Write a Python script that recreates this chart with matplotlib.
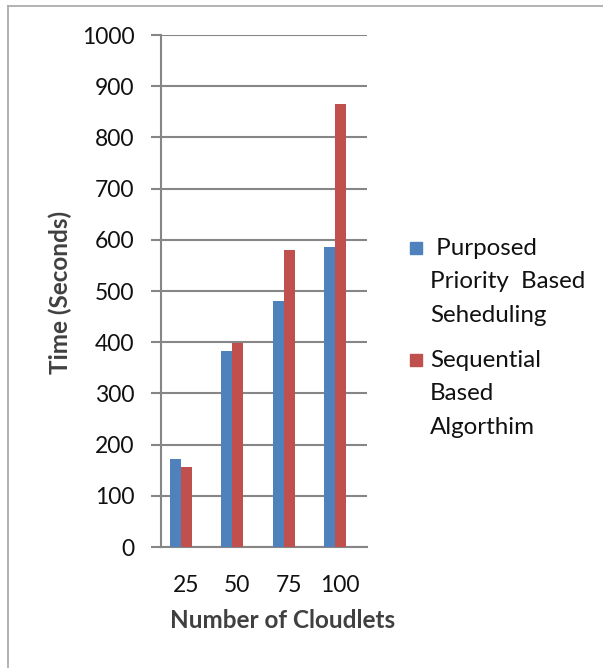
import numpy as np
import matplotlib
matplotlib.use('Agg')
import matplotlib.pyplot as plt
from matplotlib.patches import Rectangle
from matplotlib.lines import Line2D
import matplotlib.transforms as mtransforms

plt.rcParams['font.family'] = ['Lato', 'DejaVu Sans']

# ── data ──
cloudlets = ['25', '50', '75', '100']
priority_based = [172, 383, 480, 585]
sequential = [156, 398, 580, 866]
series_names = [' Purposed\nPriority  Based\nSeheduling', 'Sequential\nBased\nAlgorthim']
colors = ['#4F81BD', '#C0504D']

W, H = 603, 668
fig = plt.figure(figsize=(W / 100, H / 100), dpi=100)
ax = fig.add_axes([161 / W, 1 - 547 / H, (367 - 161) / W, (547 - 35) / H])

x = np.arange(len(cloudlets))
bw = 0.215
ax.bar(x - bw / 2, priority_based, bw, color=colors[0], zorder=3)
ax.bar(x + bw / 2, sequential, bw, color=colors[1], zorder=3)

ax.set_xlim(-0.39, 3.62)
ax.set_ylim(0, 1000)
ax.set_yticks(np.arange(0, 1001, 100))
ax.yaxis.grid(True, color='#868686', lw=1.5, zorder=0)
for s in ['top', 'right']:
    ax.spines[s].set_visible(False)
for s in ['left', 'bottom']:
    ax.spines[s].set_color('#868686')
    ax.spines[s].set_linewidth(1.5)
ax.tick_params(axis='y', length=7, width=1.5, color='#868686', pad=12,
               labelsize=16.5, labelcolor='#111111')
ax.set_xticks(x)
ax.set_xticklabels(cloudlets)
ax.tick_params(axis='x', length=0, pad=20, labelsize=16.5, labelcolor='#111111')
shift = mtransforms.ScaledTranslation(5 / 100, 0, fig.dpi_scale_trans)
for lab in ax.get_xticklabels():
    lab.set_transform(lab.get_transform() + shift)

fig.text(60 / W, 1 - 292 / H, 'Time (Seconds)', rotation=90, ha='center', va='center',
         fontsize=17.5, fontweight='bold', color='#404040')
fig.text(283 / W, 1 - 620 / H, 'Number of Cloudlets', ha='center', va='center',
         fontsize=17.5, fontweight='bold', color='#404040')

# legend drawn by hand
leg_y = [248, 360]
for name, c, yy in zip(series_names, colors, leg_y):
    fig.patches.append(Rectangle((410 / W, 1 - (yy + 6) / H), 12 / W, 12 / H,
                                 transform=fig.transFigure, color=c))
    fig.text(430 / W, 1 - (yy - 10) / H, name, ha='left', va='top', fontsize=17.4,
             color='#111111', linespacing=1.73)

# frame lines (top and left only)
fig.add_artist(Line2D([8 / W, 1], [1 - 6 / H] * 2, color='#a6a6a6', lw=1.2))
fig.add_artist(Line2D([8 / W] * 2, [0, 1 - 6 / H], color='#a6a6a6', lw=1.2))

fig.savefig('out.png', dpi=100)
